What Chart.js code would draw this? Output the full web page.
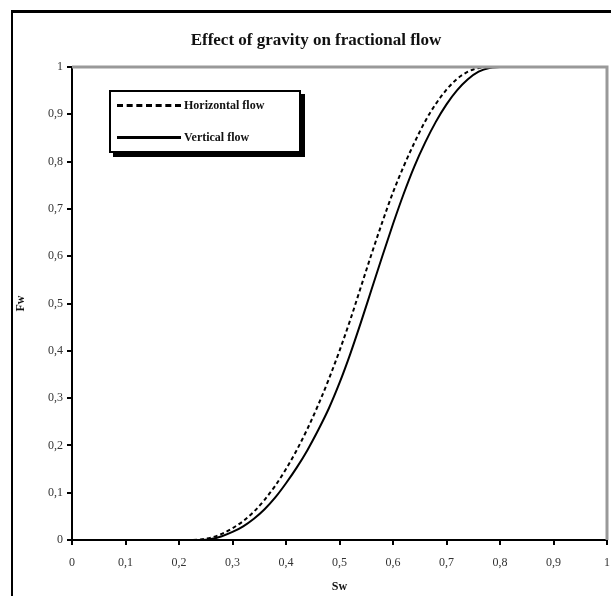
<!DOCTYPE html>
<html>
<head>
<meta charset="utf-8">
<script src="https://cdn.jsdelivr.net/npm/chart.js@4"></script>
<style>
  html, body { margin: 0; padding: 0; background: #fff; }
  #wrap { position: relative; width: 611px; height: 596px; overflow: hidden; }
  #frame { position: absolute; left: 11px; top: 10px; width: 700px; height: 700px;
           border-top: 3px solid #000; border-left: 2px solid #000; pointer-events: none; }
  #title { position: absolute; left: 0; width: 632px; top: 30px; text-align: center;
           font: bold 17px "Liberation Serif", serif; color: #111; }
  #legend { position: absolute; left: 109px; top: 90px; width: 188px; height: 59px;
            border: 2px solid #000; background: #fff; box-shadow: 4px 4px 0 #000;
            font: bold 12px "Liberation Serif", serif; color: #111; }
  .row { position: absolute; left: 6px; display: flex; align-items: center; }
  .sw { width: 64px; margin-right: 3px; }
  .dash { border-top: 3px dashed #000; }
  .solid { border-top: 3px solid #000; }
</style>
</head>
<body>
<div id="wrap">
  <canvas id="chart" width="611" height="596"></canvas>
  <div id="frame"></div>
  <div id="title">Effect of gravity on fractional flow</div>
  <div id="legend">
    <div class="row" style="top:6px"><span class="sw dash"></span>Horizontal flow</div>
    <div class="row" style="top:38px"><span class="sw solid"></span>Vertical flow</div>
  </div>
</div>
<script>
const swValues = [0.20, 0.22, 0.24, 0.26, 0.28, 0.30, 0.32, 0.34, 0.36, 0.38, 0.40,
  0.42, 0.44, 0.46, 0.48, 0.50, 0.52, 0.54, 0.56, 0.58, 0.60,
  0.62, 0.64, 0.66, 0.68, 0.70, 0.72, 0.74, 0.76, 0.78, 0.80];
const horizontalFw = [0, 0, 0.001, 0.005, 0.013, 0.025, 0.04, 0.06, 0.085, 0.115, 0.15,
  0.19, 0.235, 0.285, 0.34, 0.40, 0.465, 0.535, 0.605, 0.672, 0.735,
  0.79, 0.84, 0.885, 0.922, 0.952, 0.975, 0.99, 0.998, 1, 1];
const verticalFw = [0, 0, 0, 0.002, 0.008, 0.017, 0.029, 0.045, 0.065, 0.09, 0.12,
  0.153, 0.19, 0.232, 0.278, 0.332, 0.393, 0.46, 0.53, 0.60, 0.668,
  0.732, 0.79, 0.84, 0.884, 0.921, 0.951, 0.974, 0.99, 0.998, 1];
const xTickLabels = ['0', '0,1', '0,2', '0,3', '0,4', '0,5', '0,6', '0,7', '0,8', '0,9', '1'];
const yTickLabels = ['0', '0,1', '0,2', '0,3', '0,4', '0,5', '0,6', '0,7', '0,8', '0,9', '1'];

const toPoints = ys => swValues.map((x, i) => ({ x: x, y: ys[i] }));

// gray top/right border of the plot area
const plotBorder = {
  id: 'plotBorder',
  afterDraw(chart) {
    const a = chart.chartArea, c = chart.ctx;
    c.save();
    c.strokeStyle = '#999';
    c.lineWidth = 3;
    c.beginPath();
    c.moveTo(a.left, a.top);
    c.lineTo(a.right, a.top);
    c.lineTo(a.right, a.bottom);
    c.stroke();
    c.restore();
  }
};

const tickFont = { family: '"Liberation Serif", serif', size: 12 };

new Chart(document.getElementById('chart'), {
  type: 'scatter',
  data: {
    datasets: [
      {
        label: 'Horizontal flow',
        data: toPoints(horizontalFw),
        showLine: true,
        borderColor: '#000',
        borderWidth: 2,
        borderDash: [4, 3],
        pointRadius: 0,
        cubicInterpolationMode: 'monotone'
      },
      {
        label: 'Vertical flow',
        data: toPoints(verticalFw),
        showLine: true,
        borderColor: '#000',
        borderWidth: 2,
        pointRadius: 0,
        cubicInterpolationMode: 'monotone'
      }
    ]
  },
  options: {
    responsive: false,
    animation: false,
    layout: { padding: { top: 67, right: 4, left: 0, bottom: 0 } },
    plugins: { legend: { display: false }, tooltip: { enabled: false } },
    scales: {
      x: {
        type: 'linear', min: 0, max: 1,
        afterFit: s => { s.height = 56; s.paddingRight = 0; s.paddingLeft = 0; },
        ticks: {
          stepSize: 0.1, maxRotation: 0, padding: 11, color: '#333', font: tickFont,
          callback: (v) => xTickLabels[Math.round(v * 10)]
        },
        grid: { drawOnChartArea: false, drawTicks: true, tickLength: 5, color: '#000', lineWidth: 2 },
        border: { color: '#000', width: 2 },
        title: { display: true, text: 'Sw', color: '#111', padding: { top: 0, bottom: 2 },
                 font: { family: '"Liberation Serif", serif', size: 12, weight: 'bold' } }
      },
      y: {
        min: 0, max: 1,
        afterFit: s => { s.width = 72; },
        ticks: {
          stepSize: 0.1, padding: 4, color: '#333', font: tickFont,
          callback: (v) => yTickLabels[Math.round(v * 10)]
        },
        grid: { drawOnChartArea: false, drawTicks: true, tickLength: 5, color: '#000', lineWidth: 2 },
        border: { color: '#000', width: 2 },
        title: { display: true, text: 'Fw', color: '#111', padding: { top: 14, bottom: 0 },
                 font: { family: '"Liberation Serif", serif', size: 12, weight: 'bold' } }
      }
    }
  },
  plugins: [plotBorder]
});
</script>
</body>
</html>
